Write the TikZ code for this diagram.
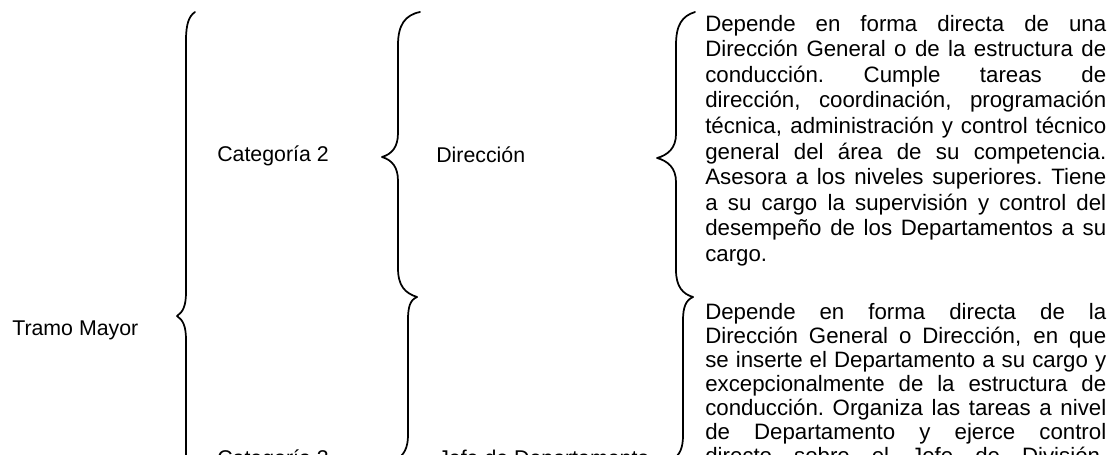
\documentclass[tikz,border=0pt]{standalone}
\usepackage{fontspec}
\setmainfont{Liberation Sans}
\newlength\dw
\setlength\dw{300.75pt}
\newcommand\jl[1]{\hbox to \dw{\spaceskip=0.27em plus 1fil\xspaceskip=\spaceskip #1}}
\begin{document}
\begin{tikzpicture}[x=0.75pt,y=-0.75pt,
  brc/.style={line width=1.3pt, line cap=round, line join=round},
  lbl/.style={anchor=base west, inner sep=0pt, font=\fontsize{16}{19}\selectfont},
  desc/.style={anchor=base west, inner sep=0pt, text width=300.75pt, align=left}]
\useasboundingbox (0,0) rectangle (1109,454);
\clip (0,0) rectangle (1109,454);

% labels
\node[lbl] (tramo) at (12,335) {Tramo Mayor};
\node[lbl] (cat2) at (217,161) {Categoría 2};
\node[lbl] (cat3) at (217,465) {Categoría 3};
\node[lbl] (dir) at (436,162) {Dirección};
\node[lbl] (jefe) at (438,465) {Jefe de Departamento};

% descriptions
\node[desc, font=\fontsize{16.7}{19.2}\selectfont] (d1) at (705,31) {%
\jl{Depende en forma directa de una}
\jl{Dirección General o de la estructura de}
\jl{conducción. Cumple tareas de}
\jl{dirección, coordinación, programación}
\jl{técnica, administración y control técnico}
\jl{general del área de su competencia.}
\jl{Asesora a los niveles superiores. Tiene}
\jl{a su cargo la supervisión y control del}
\jl{desempeño de los Departamentos a su}
\hbox{cargo.}};
\node[desc, font=\fontsize{16.7}{18}\selectfont] (d2) at (705,319) {%
\jl{Depende en forma directa de la}
\jl{Dirección General o Dirección, en que}
\jl{se inserte el Departamento a su cargo y}
\jl{excepcionalmente de la estructura de}
\jl{conducción. Organiza las tareas a nivel}
\jl{de Departamento y ejerce control}
\jl{directo sobre el Jefe de División,}};

% braces
\draw[brc] (195,12) .. controls (189,16) and (186,24) .. (186,40) -- (186,292)
  .. controls (186,306) and (183,312) .. (177,316)
  .. controls (183,320) and (186,326) .. (186,340) -- (186,470);
\draw[brc] (420,12) .. controls (405,15) and (398,25) .. (398,45) -- (398,133)
  .. controls (398,147) and (392,154) .. (382,157)
  .. controls (392,160) and (398,167) .. (398,181) -- (398,268)
  .. controls (398,286) and (405,293) .. (417,297);
\draw[brc] (417,297) .. controls (410,300) and (408,307) .. (408,320) -- (408,435)
  .. controls (408,448) and (404,455) .. (396,460);
\draw[brc] (695,12) .. controls (682,16) and (676,25) .. (676,45) -- (676,134)
  .. controls (676,148) and (668,155) .. (657,158)
  .. controls (668,161) and (676,168) .. (676,182) -- (676,270)
  .. controls (676,287) and (683,294) .. (693,297);
\draw[brc] (693,297) .. controls (686,300) and (683,307) .. (683,320) -- (683,435)
  .. controls (683,448) and (680,455) .. (672,460);
\end{tikzpicture}
\end{document}
